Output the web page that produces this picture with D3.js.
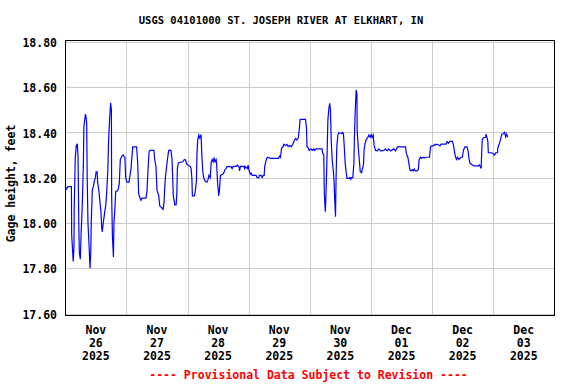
<!DOCTYPE html>
<html>
<head>
<meta charset="utf-8">
<script src="https://cdn.jsdelivr.net/npm/d3@7"></script>
<style>
    body { margin: 0; background: #fff; }
    text { font-family: "DejaVu Sans Mono", monospace; font-weight: bold; }
</style>
</head>
<body>
<div id="chart-area"></div>
<script>
// hours since Nov 26 2025 00:00, and gage height (feet)
var hours = [0, 0.5, 1, 2.4, 2.5, 2.8, 3.1, 3.4, 3.5, 3.9, 4.3, 4.7, 5.0, 5.3, 5.5, 5.9, 6.2, 6.7, 7.1, 7.3,
    7.9, 8.1, 8.4, 8.6, 8.9, 9.3, 9.7, 10.0, 10.2, 10.6, 11.0, 11.4, 11.8, 12.1, 12.5, 12.7, 13.2, 13.6, 14.0, 14.3,
    14.5, 14.9, 15.5, 15.9, 16.3, 16.7, 17.0, 17.4, 17.8, 18.1, 18.2, 18.5, 18.9, 19.1, 19.5, 19.8, 20.4, 20.8, 21.2, 21.6,
    22.2, 22.7, 23.2, 23.4, 23.7, 24.2, 25.0, 25.4, 25.8, 26.1, 26.5, 28.0, 28.4, 28.8, 29.3, 29.7, 30.1, 31.7, 32.1, 32.5,
    32.9, 33.3, 34.8, 35.1, 35.6, 36.0, 36.7, 37.1, 37.6, 38.0, 38.4, 38.8, 39.0, 39.3, 39.7, 40.1, 40.6, 41.5, 41.9, 42.2,
    42.4, 43.0, 43.5, 43.8, 44.0, 44.4, 46.1, 46.6, 47.1, 47.7, 48.1, 49.0, 49.4, 49.7, 49.9, 50.7, 51.1, 51.5, 51.7, 52.0,
    52.4, 52.8, 53.3, 53.6, 54.0, 54.4, 54.9, 55.6, 56.0, 56.4, 56.9, 57.1, 57.3, 57.7, 58.1, 58.4, 58.8, 59.2, 59.4, 59.8,
    60.1, 60.2, 60.5, 60.9, 61.8, 62.2, 62.6, 63.1, 63.5, 65.1, 65.5, 65.9, 67.1, 67.6, 68.3, 68.4, 68.8, 70.0, 70.4, 70.6,
    71.4, 71.8, 72.1, 72.6, 73.0, 73.4, 74.9, 75.3, 76.0, 76.2, 76.9, 77.3, 77.7, 78.1, 78.3, 78.7, 79.1, 79.6, 80.4, 83.7,
    84.1, 84.5, 84.9, 85.4, 85.8, 86.3, 87.0, 87.5, 88.0, 88.7, 89.3, 90.0, 90.4, 90.9, 91.5, 91.9, 92.2, 94.3, 94.7, 94.9,
    95.3, 95.8, 96.5, 97.0, 97.6, 97.8, 98.5, 100.8, 101.1, 101.5, 101.7, 102.1, 102.4, 102.7, 103.1, 103.5, 103.8, 104.1, 104.4, 104.8,
    105.2, 105.5, 105.8, 106.1, 106.3, 106.6, 107.0, 107.4, 108.6, 108.8, 109.2, 109.5, 109.9, 110.3, 110.6, 111.3, 111.7, 112.1, 112.3, 112.9,
    113.3, 113.5, 113.8, 114.2, 114.5, 114.6, 115.0, 115.5, 115.8, 116.3, 116.7, 117.1, 117.3, 117.7, 118.2, 118.8, 119.2, 119.7, 120.1, 120.5,
    120.9, 121.3, 121.8, 122.5, 123.1, 123.8, 125.1, 125.7, 126.4, 127.0, 127.7, 129.0, 129.7, 130.4, 133.6, 133.9, 134.5, 134.9, 135.3, 135.8,
    136.2, 136.6, 137.0, 137.4, 138.0, 138.6, 138.9, 139.5, 139.8, 140.5, 140.9, 141.4, 143.0, 143.4, 143.8, 144.6, 145.0, 145.4, 145.9, 146.6,
    147.1, 147.5, 149.5, 149.9, 150.4, 151.0, 152.0, 152.4, 152.8, 153.2, 153.6, 154.0, 154.5, 155.3, 155.9, 156.3, 156.9, 157.7, 158.1, 158.5,
    158.9, 159.4, 159.8, 160.6, 162.2, 162.6, 163.1, 163.3, 163.4, 163.7, 164.2, 165.0, 165.2, 165.6, 165.9, 166.1, 167.4, 168.2, 168.5, 169.0,
    169.7, 169.8, 170.4, 170.9, 171.4, 172.1, 172.5, 172.9, 173.3, 173.7];

var gageHeight = [18.16, 18.15, 18.16, 18.16, 17.95, 17.89, 17.83, 17.89, 18.06, 18.285, 18.34, 18.35, 18.29, 18.00, 17.87, 17.84, 17.95, 18.09, 18.265, 18.425,
    18.48, 18.47, 18.44, 18.20, 18.00, 17.91, 17.80, 17.87, 18.005, 18.145, 18.16, 18.185, 18.20, 18.226, 18.226, 18.18, 18.14, 18.094, 18.05, 17.98,
    17.96, 18.00, 18.05, 18.08, 18.145, 18.234, 18.366, 18.46, 18.53, 18.50, 18.12, 17.94, 17.85, 18.00, 18.07, 18.14, 18.14, 18.15, 18.175, 18.28,
    18.295, 18.30, 18.29, 18.29, 18.20, 18.18, 18.18, 18.21, 18.24, 18.285, 18.336, 18.336, 18.27, 18.13, 18.11, 18.10, 18.11, 18.11, 18.145, 18.24,
    18.315, 18.32, 18.32, 18.28, 18.25, 18.145, 18.12, 18.075, 18.07, 18.065, 18.06, 18.094, 18.15, 18.20, 18.24, 18.28, 18.32, 18.32, 18.28, 18.19,
    18.12, 18.08, 18.08, 18.13, 18.237, 18.266, 18.27, 18.278, 18.28, 18.26, 18.256, 18.25, 18.24, 18.197, 18.12, 18.12, 18.145, 18.19, 18.307, 18.366,
    18.388, 18.375, 18.39, 18.30, 18.226, 18.197, 18.185, 18.18, 18.19, 18.21, 18.20, 18.234, 18.27, 18.28, 18.27, 18.285, 18.27, 18.28, 18.263, 18.175,
    18.14, 18.12, 18.14, 18.21, 18.215, 18.22, 18.234, 18.24, 18.249, 18.249, 18.24, 18.25, 18.25, 18.255, 18.245, 18.23, 18.25, 18.25, 18.24, 18.25,
    18.24, 18.255, 18.234, 18.215, 18.22, 18.21, 18.21, 18.20, 18.20, 18.21, 18.21, 18.20, 18.21, 18.21, 18.25, 18.27, 18.285, 18.29, 18.285, 18.285,
    18.295, 18.29, 18.33, 18.335, 18.347, 18.342, 18.347, 18.337, 18.342, 18.337, 18.347, 18.366, 18.373, 18.366, 18.376, 18.418, 18.457, 18.457, 18.418, 18.336,
    18.333, 18.32, 18.327, 18.32, 18.327, 18.32, 18.327, 18.327, 18.307, 18.30, 18.13, 18.05, 18.145, 18.263, 18.454, 18.506, 18.528, 18.50, 18.366, 18.278,
    18.234, 18.19, 18.10, 18.028, 18.19, 18.336, 18.388, 18.398, 18.395, 18.40, 18.395, 18.344, 18.263, 18.222, 18.197, 18.197, 18.20, 18.193, 18.20, 18.20,
    18.263, 18.366, 18.484, 18.587, 18.57, 18.41, 18.336, 18.27, 18.226, 18.222, 18.24, 18.26, 18.32, 18.35, 18.369, 18.378, 18.388, 18.378, 18.39, 18.378,
    18.388, 18.34, 18.32, 18.318, 18.327, 18.318, 18.32, 18.327, 18.318, 18.327, 18.318, 18.327, 18.318, 18.336, 18.336, 18.307, 18.29, 18.263, 18.234, 18.23,
    18.235, 18.23, 18.238, 18.23, 18.23, 18.235, 18.278, 18.29, 18.285, 18.29, 18.287, 18.29, 18.29, 18.336, 18.34, 18.34, 18.347, 18.344, 18.348, 18.344,
    18.34, 18.348, 18.348, 18.359, 18.352, 18.36, 18.36, 18.344, 18.315, 18.292, 18.28, 18.29, 18.28, 18.29, 18.29, 18.32, 18.336, 18.336, 18.32, 18.285,
    18.263, 18.26, 18.256, 18.252, 18.252, 18.256, 18.245, 18.24, 18.285, 18.366, 18.376, 18.378, 18.392, 18.376, 18.36, 18.31, 18.31, 18.305, 18.30, 18.31,
    18.31, 18.33, 18.35, 18.369, 18.392, 18.395, 18.40, 18.38, 18.392, 18.378];

var yTicks = [17.60, 17.80, 18.00, 18.20, 18.40, 18.60, 18.80];
var startDate = new Date(2025, 10, 26);
var endDate = new Date(2025, 11, 4);
var titleText = "USGS 04101000 ST. JOSEPH RIVER AT ELKHART, IN";
var yLabel = "Gage height, feet";
var noteText = "---- Provisional Data Subject to Revision ----";

var svg = d3.select("#chart-area")
    .append("svg")
    .attr("width", 576)
    .attr("height", 384);

var x = d3.scaleTime()
    .domain([startDate, endDate])
    .range([65.3, 554.3]);

var y = d3.scaleLinear()
    .domain([17.60, 18.80])
    .range([313.6, 41.7]);

var data = hours.map(function(h, i) {
    return { date: new Date(startDate.getTime() + h * 3600000), value: gageHeight[i] };
});

// grid lines
var days = d3.timeDay.range(d3.timeDay.offset(startDate, 1), endDate);
svg.append("g")
    .selectAll("line.vgrid")
    .data(days)
    .enter()
        .append("line")
        .attr("x1", function(d) { return Math.round(x(d)) + 0.5; })
        .attr("x2", function(d) { return Math.round(x(d)) + 0.5; })
        .attr("y1", 41)
        .attr("y2", 315)
        .attr("stroke", "#cccccc");

svg.append("g")
    .selectAll("line.hgrid")
    .data(yTicks)
    .enter()
        .append("line")
        .attr("x1", 65)
        .attr("x2", 554)
        .attr("y1", function(d) { return Math.round(y(d)) + 0.5; })
        .attr("y2", function(d) { return Math.round(y(d)) + 0.5; })
        .attr("stroke", "#cccccc");

// the data line
var line = d3.line()
    .x(function(d) { return x(d.date); })
    .y(function(d) { return y(d.value); });

svg.append("path")
    .datum(data)
    .attr("d", line)
    .attr("fill", "none")
    .attr("stroke", "#0000ff")
    .attr("stroke-width", 1.2);

// frame
svg.append("rect")
    .attr("x", 65.5)
    .attr("y", 40.5)
    .attr("width", 489)
    .attr("height", 275)
    .attr("fill", "none")
    .attr("stroke", "#000");

// y axis labels
var yAxis = d3.axisLeft(y)
    .tickValues(yTicks)
    .tickSize(0)
    .tickPadding(8)
    .tickFormat(d3.format(".2f"));

var yAxisGroup = svg.append("g")
    .attr("transform", "translate(65,1)")
    .call(yAxis);
yAxisGroup.select(".domain").remove();
yAxisGroup.selectAll("text")
    .attr("font-size", "11.5px")
    .attr("font-family", "DejaVu Sans Mono")
    .attr("font-weight", "bold")
    .attr("fill", "#000");

// x axis labels, three lines at noon of each day
var labelDays = d3.timeDay.range(startDate, endDate);
var xl = svg.append("g")
    .selectAll("text.xlab")
    .data(labelDays)
    .enter()
        .append("text")
        .attr("x", function(d) { return x(d3.timeHour.offset(d, 12)); })
        .attr("y", 334)
        .attr("text-anchor", "middle")
        .attr("font-size", "11.5px");
xl.append("tspan")
    .text(function(d) { return d3.timeFormat("%b")(d); });
xl.append("tspan")
    .attr("x", function(d) { return x(d3.timeHour.offset(d, 12)); })
    .attr("dy", 12.8)
    .text(function(d) { return d3.timeFormat("%d")(d); });
xl.append("tspan")
    .attr("x", function(d) { return x(d3.timeHour.offset(d, 12)); })
    .attr("dy", 13)
    .text(function(d) { return d3.timeFormat("%Y")(d); });

// title
svg.append("text")
    .attr("x", 281)
    .attr("y", 24)
    .attr("text-anchor", "middle")
    .attr("font-size", "10.5px")
    .text(titleText);

// y label
svg.append("text")
    .attr("transform", "translate(15,183.5) rotate(-90)")
    .attr("text-anchor", "middle")
    .attr("font-size", "11.5px")
    .text(yLabel);

// provisional note
svg.append("text")
    .attr("x", 308.5)
    .attr("y", 379)
    .attr("text-anchor", "middle")
    .attr("font-size", "11.5px")
    .attr("fill", "#ff0000")
    .text(noteText);
</script>
</body>
</html>
